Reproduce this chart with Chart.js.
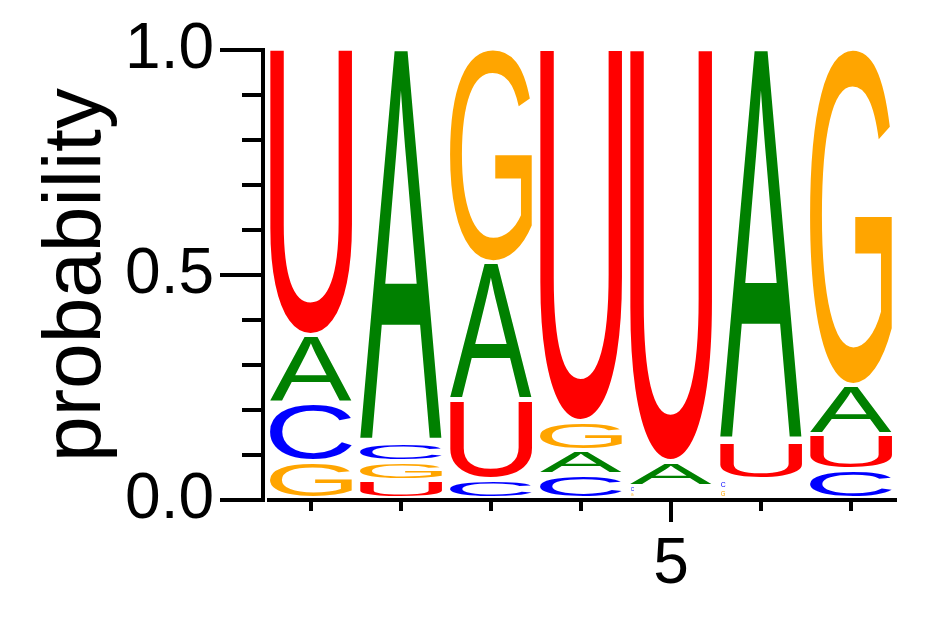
<!DOCTYPE html>
<html><head><meta charset="utf-8">
<script src="https://cdn.jsdelivr.net/npm/chart.js@4.4.1/dist/chart.umd.min.js"></script>
<style>html,body{margin:0;padding:0;background:#fff;overflow:hidden;} #wrap{width:942px;height:617px;position:relative;}</style>
</head><body><div id="wrap"><canvas id="c" width="942" height="617"></canvas></div>
<script>
// ---- data ----
const positions = ['1','2','3','4','5','6','7'];
const shownXTicks = ['5'];
const probA = [0.151, 0.877, 0.306, 0.054, 0.055, 0.874, 0.109];
const probC = [0.129, 0.042, 0.042, 0.053, 0.015, 0.022, 0.064];
const probG = [0.082, 0.041, 0.476, 0.064, 0.012, 0.020, 0.749];
const probU = [0.638, 0.040, 0.176, 0.829, 0.918, 0.084, 0.078];
const yTickValues = [0, 0.5, 1.0];
const yMinorStep = 0.1;
const letters = ['A','C','G','U'];
const letterColors = {A:'#008000', C:'#0000FF', G:'#FFA500', U:'#FF0000'};

// ---- build stacked (sorted) floating bars ----
const probs = {A: probA, C: probC, G: probG, U: probU};
const floating = {A:[], C:[], G:[], U:[]};
positions.forEach((_, i) => {
  const order = letters.slice().sort((a, b) => probs[a][i] - probs[b][i]);
  let cum = 0;
  order.forEach(L => { floating[L].push([cum, cum + probs[L][i]]); cum += probs[L][i]; });
});

function drawGlyph(ctx, ch, color, x, y, w, h) {
  if (w <= 0 || h <= 0) return;
  ctx.save();
  ctx.font = '200px "Liberation Sans"';
  const m = ctx.measureText(ch);
  const iw = m.actualBoundingBoxLeft + m.actualBoundingBoxRight;
  const ih = m.actualBoundingBoxAscent + m.actualBoundingBoxDescent;
  ctx.translate(x, y);
  ctx.scale(w / iw, h / ih);
  ctx.fillStyle = color;
  ctx.textBaseline = 'alphabetic';
  ctx.textAlign = 'left';
  ctx.fillText(ch, m.actualBoundingBoxLeft, m.actualBoundingBoxAscent);
  ctx.restore();
}

const logoPlugin = {
  id: 'logo',
  afterDatasetsDraw(chart) {
    const ctx = chart.ctx;
    chart.data.datasets.forEach((ds, di) => {
      const meta = chart.getDatasetMeta(di);
      meta.data.forEach(el => {
        const p = el.getProps(['x','y','base','width'], true);
        const top = Math.min(p.y, p.base), bottom = Math.max(p.y, p.base);
        const h = bottom - top;
        const gap = 4;
        let gx, gy, gw, gh;
        if (h >= 12) { gx = p.x - p.width/2; gw = p.width; gy = top; gh = h - gap; }
        else { gh = Math.max(2.5, h * 0.55); gw = gh * 0.8; gx = p.x - p.width/2 + 1; gy = bottom - gap - gh; }
        drawGlyph(ctx, ds.label, letterColors[ds.label], gx, gy, gw, gh);
      });
    });
  }
};

const axesPlugin = {
  id: 'axes',
  afterDraw(chart) {
    const {ctx, chartArea} = chart;
    const xs = chart.scales.x, ys = chart.scales.y;
    ctx.save();
    ctx.strokeStyle = '#000'; ctx.lineWidth = 4; ctx.lineCap = 'butt';
    const y0 = ys.getPixelForValue(0), y1 = ys.getPixelForValue(1);
    const ax = chartArea.left - 3;
    ctx.beginPath(); ctx.moveTo(ax, y1 - 2); ctx.lineTo(ax, y0 + 2); ctx.stroke();
    const nMinor = Math.round((ys.max - ys.min) / yMinorStep);
    for (let k = 0; k <= nMinor; k++) {
      const v = ys.min + k * yMinorStep;
      const py = ys.getPixelForValue(v);
      const major = yTickValues.some(t => Math.abs(t - v) < 1e-6);
      const len = major ? 43 : 21;
      ctx.beginPath(); ctx.moveTo(ax - len, py); ctx.lineTo(ax + 2, py); ctx.stroke();
    }
    ctx.beginPath(); ctx.moveTo(chartArea.left + 1, y0); ctx.lineTo(chartArea.right + 1, y0); ctx.stroke();
    positions.forEach((p, i) => {
      const px = xs.getPixelForValue(i);
      const len = shownXTicks.includes(p) ? 22 : 11;
      ctx.beginPath(); ctx.moveTo(px, y0); ctx.lineTo(px, y0 + len); ctx.stroke();
    });
    ctx.restore();
  }
};

Chart.defaults.font.family = '"Liberation Sans", Arial, sans-serif';
Chart.defaults.color = '#000';

new Chart(document.getElementById('c'), {
  type: 'bar',
  data: {
    labels: positions,
    datasets: letters.map(L => ({
      label: L,
      data: floating[L],
      backgroundColor: 'rgba(0,0,0,0)',
      borderWidth: 0,
      barPercentage: 0.91,
      categoryPercentage: 1.0,
      grouped: false
    }))
  },
  options: {
    responsive: false,
    animation: false,
    devicePixelRatio: 1,
    layout: { padding: { top: 50, right: 46, left: 0, bottom: 0 } },
    plugins: { legend: { display: false }, tooltip: { enabled: false } },
    scales: {
      x: {
        offset: true,
        grid: { display: false, drawTicks: false },
        border: { display: false },
        ticks: {
          autoSkip: false, maxRotation: 0, padding: 27,
          font: { size: 64 },
          callback: function(v) { const l = this.getLabelForValue(v); return shownXTicks.includes(l) ? l : ''; }
        },
        afterFit: s => { s.height = 117; s.paddingLeft = 0; s.paddingRight = 0; }
      },
      y: {
        min: 0, max: 1,
        grid: { display: false, drawTicks: false },
        border: { display: false },
        afterBuildTicks: s => { s.ticks = yTickValues.map(v => ({ value: v })); },
        ticks: { padding: 52, font: { size: 64 }, callback: v => Number(v).toFixed(1) },
        title: { display: true, text: 'probability', font: { size: 82 }, padding: { top: 28, bottom: 0 } },
        afterFit: s => { s.width = 266; s.paddingTop = 0; s.paddingBottom = 0; }
      }
    }
  },
  plugins: [logoPlugin, axesPlugin]
});
</script>
</body></html>
